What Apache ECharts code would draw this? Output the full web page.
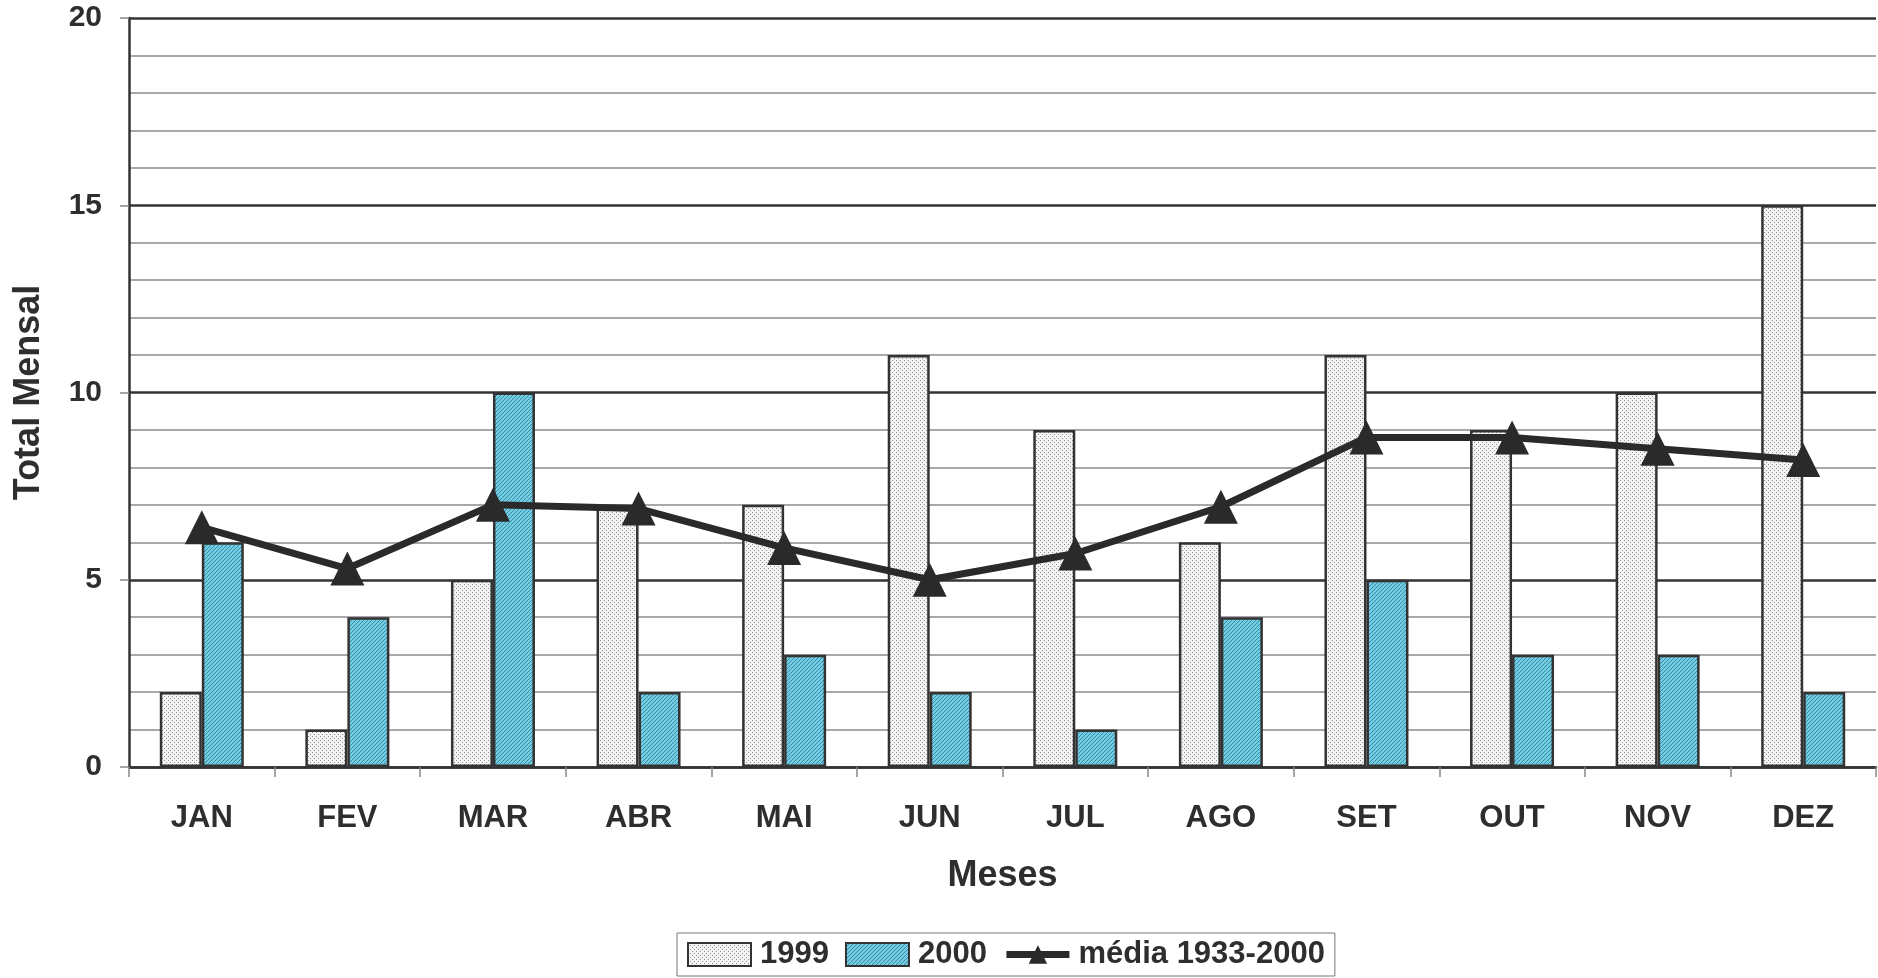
<!DOCTYPE html>
<html>
<head>
<meta charset="utf-8">
<title>Total Mensal</title>
<script src="https://cdn.jsdelivr.net/npm/echarts@6/dist/echarts.min.js"></script>
<style>
html, body { margin: 0; padding: 0; background: #fff; }
#main { width: 1878px; height: 978px; }
</style>
</head>
<body>
<div id="main"></div>
<script>
// dados
var meses = ['JAN', 'FEV', 'MAR', 'ABR', 'MAI', 'JUN', 'JUL', 'AGO', 'SET', 'OUT', 'NOV', 'DEZ'];
var v1999 = [2, 1, 5, 7, 7, 11, 9, 6, 11, 9, 10, 15];
var v2000 = [6, 4, 10, 2, 3, 2, 1, 4, 5, 3, 3, 2];
var media = [6.4, 5.3, 7.0, 6.9, 5.85, 5.0, 5.7, 6.95, 8.8, 8.8, 8.5, 8.2];
var yTicks = [0, 5, 10, 15, 20];

// padrões de preenchimento (pontilhado e hachurado)
function pontos() {
  var c = document.createElement('canvas');
  c.width = 4; c.height = 4;
  var g = c.getContext('2d');
  g.fillStyle = '#f4f4f4';
  g.fillRect(0, 0, 4, 4);
  g.fillStyle = '#929292';
  g.fillRect(0, 0, 1, 1);
  g.fillRect(2, 2, 1, 1);
  return c;
}
function hachura() {
  var c = document.createElement('canvas');
  c.width = 4; c.height = 4;
  var g = c.getContext('2d');
  g.fillStyle = '#72cde2';
  g.fillRect(0, 0, 4, 4);
  g.strokeStyle = '#3a8ca6';
  g.lineWidth = 1;
  for (var k = -4; k <= 4; k += 4) {
    g.beginPath();
    g.moveTo(k, 4);
    g.lineTo(k + 4, 0);
    g.stroke();
  }
  return c;
}

var fonte = '"Liberation Sans", Arial, sans-serif';
var chart = echarts.init(document.getElementById('main'));

chart.setOption({
  animation: false,
  backgroundColor: '#fff',
  grid: { left: 129, right: 2, top: 18, bottom: 211 },
  legend: {
    bottom: 2,
    left: 677,
    itemWidth: 63,
    itemHeight: 23,
    itemGap: 16,
    padding: [6, 10, 6, 10],
    borderColor: '#777',
    borderWidth: 1,
    textStyle: { fontFamily: fonte, fontWeight: 'bold', fontSize: 31, color: '#2e2e2e', padding: [0, 0, 0, 4] },
    data: [
      { name: '1999', icon: 'rect' },
      { name: '2000', icon: 'rect' },
      { name: 'média 1933-2000', lineStyle: { width: 7 } }
    ]
  },
  xAxis: {
    type: 'category',
    data: meses,
    name: 'Meses',
    nameLocation: 'middle',
    nameGap: 91,
    nameTextStyle: { fontFamily: fonte, fontWeight: 'bold', fontSize: 36, color: '#2e2e2e' },
    axisLine: { lineStyle: { color: '#333', width: 2.5 } },
    axisTick: { show: true, length: 10, lineStyle: { color: '#888', width: 1.5 } },
    axisLabel: { margin: 36, fontFamily: fonte, fontWeight: 'bold', fontSize: 31, color: '#2e2e2e' }
  },
  yAxis: {
    type: 'value',
    min: 0,
    max: 20,
    interval: 5,
    name: 'Total Mensal',
    nameLocation: 'middle',
    nameGap: 82,
    nameTextStyle: { fontFamily: fonte, fontWeight: 'bold', fontSize: 36, color: '#2e2e2e' },
    axisLine: { show: true, lineStyle: { color: '#333', width: 2.5 } },
    axisTick: { show: true, length: 9, lineStyle: { color: '#888', width: 1.5 } },
    axisLabel: {
      margin: 27, fontFamily: fonte, fontWeight: 'bold', fontSize: 30, color: '#2e2e2e',
      formatter: function (v) { return yTicks.indexOf(v) >= 0 ? String(v) : ''; }
    },
    splitLine: { show: true, lineStyle: { color: '#333', width: 2.5 } },
    minorTick: { show: false, splitNumber: 5 },
    minorSplitLine: { show: true, lineStyle: { color: '#8c8c8c', width: 1.5 } }
  },
  series: [
    {
      name: '1999',
      type: 'bar',
      data: v1999,
      barWidth: 42,
      barGap: '0%',
      itemStyle: { color: { image: pontos(), repeat: 'repeat' }, borderColor: '#333', borderWidth: 2.5 }
    },
    {
      name: '2000',
      type: 'bar',
      data: v2000,
      barWidth: 42,
      barGap: '0%',
      itemStyle: { color: { image: hachura(), repeat: 'repeat' }, borderColor: '#333', borderWidth: 2.5 }
    },
    {
      name: 'média 1933-2000',
      type: 'line',
      data: media,
      symbol: 'triangle',
      symbolSize: 34,
      z: 5,
      lineStyle: { color: '#2a2a2a', width: 7 },
      itemStyle: { color: '#2a2a2a' }
    }
  ]
});
</script>
</body>
</html>
